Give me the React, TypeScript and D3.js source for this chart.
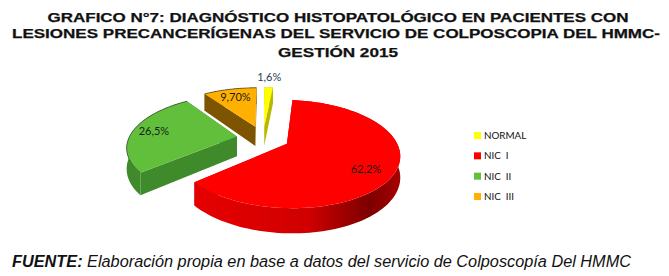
import React from 'react'
import * as d3 from 'd3'

const categories = ['NORMAL', 'NIC  I', 'NIC  II', 'NIC  III']
const values = [1.6, 62.2, 26.5, 9.7]
const valueLabels = ['1,6%', '62,2%', '26,5%', '9,70%']
const colors = ['#ffff00', '#ff0000', '#62bf3c', '#ffb000']
const wallColors = ['#b8b800', '#c80000', '#3f8a2a', '#7d5400']
const titleLines = [
  'GRAFICO N°7: DIAGNÓSTICO HISTOPATOLÓGICO EN PACIENTES CON',
  'LESIONES PRECANCERÍGENAS  DEL SERVICIO DE COLPOSCOPIA DEL HMMC-',
  'GESTIÓN 2015',
]

const width = 669
const height = 276
const cx = 263
const cy = 138
const rx = 108
const ry = 50
const tilt = 0.185 // perspective, front of the pie comes closer
const depth = 20
const explode = 0.245

// label position relative to the slice tip
const labelOffsets = [[5, -45], [79, 29], [-83, -1], [-20, -26]]
const paintOrder = [0, 3, 2, 1]

const project = (X: number, Y: number, drop = 0): [number, number] => {
  const s = 1 / (1 - tilt * Y)
  return [cx + X * s * rx, cy + (Y * ry + drop) * s]
}

const line = d3.line()

const App = () => {
  const slices = d3.pie<number>().sort(null).value(d => d)(values)

  const parts = slices.map((slice, i) => {
    const mid = (slice.startAngle + slice.endAngle) / 2
    const ox = Math.sin(mid) * explode
    const oy = -Math.cos(mid) * explode
    const steps = Math.max(2, Math.ceil((slice.endAngle - slice.startAngle) * 30))
    const angles = d3.range(steps + 1).map(k => slice.startAngle + ((slice.endAngle - slice.startAngle) * k) / steps)
    const rim = (drop: number) => angles.map(a => project(ox + Math.sin(a), oy - Math.cos(a), drop))
    const tip = (drop: number) => project(ox, oy, drop)
    const topRim = rim(0)
    const lowRim = rim(depth)
    const first = topRim[0]
    const last = topRim[topRim.length - 1]
    return {
      i,
      tip: tip(0),
      top: line([tip(0), ...topRim]) + 'Z',
      outer: line([...topRim, ...lowRim.reverse()]) + 'Z',
      rimLine: line(topRim) as string,
      wallStart: line([tip(0), first, rim(depth)[0], tip(depth)]) + 'Z',
      wallEnd: line([tip(0), last, rim(depth)[steps], tip(depth)]) + 'Z',
    }
  })

  const legendY = d3.scalePoint<string>().domain(categories).range([135, 196])

  return (
    <svg width={width} height={height} style={{ position: 'absolute', left: 0, top: 0, background: '#fff' }}>
      <defs>
        <linearGradient id="redWall" x1="0" x2="1" y1="0" y2="0">
          <stop offset="0" stopColor="#e60000" />
          <stop offset="0.55" stopColor="#d00000" />
          <stop offset="0.85" stopColor="#7c0000" />
          <stop offset="1" stopColor="#a80000" />
        </linearGradient>
      </defs>

      <g fontFamily="'Liberation Sans', Arial, sans-serif" fontWeight="bold" fontSize="12.5" fill="#111" textAnchor="middle" stroke="#111" strokeWidth="0.25" style={{ whiteSpace: 'pre' }}>
        <text x={338} y={22} textLength={581} lengthAdjust="spacingAndGlyphs">{titleLines[0]}</text>
        <text x={336} y={38} textLength={648} lengthAdjust="spacingAndGlyphs">{titleLines[1]}</text>
        <text x={338} y={57} textLength={120} lengthAdjust="spacingAndGlyphs">{titleLines[2]}</text>
      </g>

      {paintOrder.map(idx => {
        const p = parts[idx]
        return (
          <g key={idx}>
            <path d={p.wallStart} fill={wallColors[idx]} />
            <path d={p.wallEnd} fill={wallColors[idx]} />
            <path d={p.outer} fill={idx === 1 ? 'url(#redWall)' : wallColors[idx]} />
            <path d={p.top} fill={colors[idx]} />
            {idx === 2 || idx === 3 ? <path d={p.rimLine} fill="none" stroke="#1c2a14" strokeWidth="0.6" /> : null}
          </g>
        )
      })}

      <g fontFamily="Lato, sans-serif" fontSize="11" fill="#1a1a1a" textAnchor="middle">
        {parts.map(p => (
          <text key={p.i} x={p.tip[0] + labelOffsets[p.i][0]} y={p.tip[1] + labelOffsets[p.i][1]} fill={p.i === 0 ? '#2c3e50' : '#1a1a1a'}>
            {valueLabels[p.i]}
          </text>
        ))}
      </g>

      <g fontFamily="Lato, sans-serif" fontSize="9.8" fill="#111">
        {categories.map((c, i) => (
          <g key={c}>
            <rect x={474} y={legendY(c)! - 3} width={7} height={7} fill={colors[i]} />
            <text x={484} y={legendY(c)! + 4} style={{ whiteSpace: 'pre' }}>{c}</text>
          </g>
        ))}
      </g>

      <text x={12} y={267} fontFamily="'Liberation Sans', Arial, sans-serif" fontStyle="italic" fontSize="16.3" fill="#111" style={{ whiteSpace: 'pre' }}>
        <tspan fontWeight="bold">FUENTE:</tspan>
        <tspan> Elaboración propia en base a datos del servicio de Colposcopía Del HMMC</tspan>
      </text>
    </svg>
  )
}

export default App
